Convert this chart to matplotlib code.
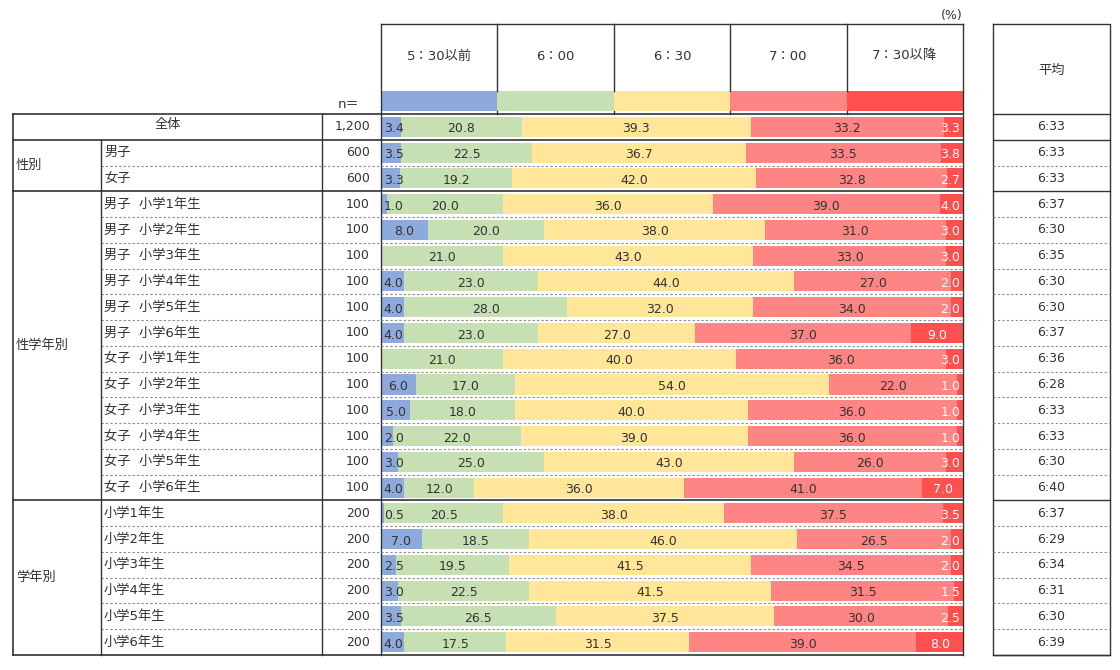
import numpy as np
import matplotlib.pyplot as plt

plt.rcParams['font.family'] = ['DejaVu Sans', 'Noto Sans CJK JP']
plt.rcParams['font.size'] = 9

# data
categories = ['5：30以前', '6：00', '6：30', '7：00', '7：30以降']
colors = ['#8EA9DB', '#C6E0B4', '#FFE699', '#FF8585', '#FF5050']

groups = [('', 0, 1), ('性別', 1, 3), ('性学年別', 3, 15), ('学年別', 15, 21)]
row_labels = ['全体', '男子', '女子',
              '男子  小学1年生', '男子  小学2年生', '男子  小学3年生',
              '男子  小学4年生', '男子  小学5年生', '男子  小学6年生',
              '女子  小学1年生', '女子  小学2年生', '女子  小学3年生',
              '女子  小学4年生', '女子  小学5年生', '女子  小学6年生',
              '小学1年生', '小学2年生', '小学3年生',
              '小学4年生', '小学5年生', '小学6年生']
n_values = [1200, 600, 600] + [100] * 12 + [200] * 6
averages = ['6:33', '6:33', '6:33',
            '6:37', '6:30', '6:35', '6:30', '6:30', '6:37',
            '6:36', '6:28', '6:33', '6:33', '6:30', '6:40',
            '6:37', '6:29', '6:34', '6:31', '6:30', '6:39']

before_530 = [3.4, 3.5, 3.3, 1.0, 8.0, 0.0, 4.0, 4.0, 4.0, 0.0, 6.0, 5.0, 2.0, 3.0, 4.0,
              0.5, 7.0, 2.5, 3.0, 3.5, 4.0]
at_600 = [20.8, 22.5, 19.2, 20.0, 20.0, 21.0, 23.0, 28.0, 23.0, 21.0, 17.0, 18.0, 22.0, 25.0, 12.0,
          20.5, 18.5, 19.5, 22.5, 26.5, 17.5]
at_630 = [39.3, 36.7, 42.0, 36.0, 38.0, 43.0, 44.0, 32.0, 27.0, 40.0, 54.0, 40.0, 39.0, 43.0, 36.0,
          38.0, 46.0, 41.5, 41.5, 37.5, 31.5]
at_700 = [33.2, 33.5, 32.8, 39.0, 31.0, 33.0, 27.0, 34.0, 37.0, 36.0, 22.0, 36.0, 36.0, 26.0, 41.0,
          37.5, 26.5, 34.5, 31.5, 30.0, 39.0]
after_730 = [3.3, 3.8, 2.7, 4.0, 3.0, 3.0, 2.0, 2.0, 9.0, 3.0, 1.0, 1.0, 1.0, 3.0, 7.0,
             3.5, 2.0, 2.0, 1.5, 2.5, 8.0]

series = np.array([before_530, at_600, at_630, at_700, after_730])
nrows = len(row_labels)

# layout in pixels
W, H = 1120, 670
top, bottom = 114, 655
rh = (bottom - top) / nrows
x_left, x_grp, x_lab, x_bar0, x_bar1 = 13, 101, 322, 381, 963
x_av0, x_av1 = 993, 1110
head_top, strip_top, strip_bot = 24, 91, 111
txt = '#333333'
jp = 9.5

fig = plt.figure(figsize=(W / 100, H / 100), dpi=100)


def frac(x0, y0, x1, y1):
    return [x0 / W, 1 - y1 / H, (x1 - x0) / W, (y1 - y0) / H]


# bars
ax = fig.add_axes(frac(x_bar0, top, x_bar1, bottom))
ypos = np.arange(nrows)
left = np.zeros(nrows)
for k, (vals, c) in enumerate(zip(series, colors)):
    ax.barh(ypos, vals, left=left, height=0.78, color=c, linewidth=0)
    for i, v in enumerate(vals):
        if v <= 0:
            continue
        cx = left[i] + v / 2
        cx = min(max(cx, 2.2), 100 - 2.2)
        ax.text(cx, i + 0.08, f'{v:.1f}', ha='center', va='center', fontsize=9,
                color='white' if k == len(series) - 1 else txt)
    left += vals
ax.set_xlim(0, 100)
ax.set_ylim(nrows - 0.5, -0.5)
ax.axis('off')

# legend strip
axl = fig.add_axes(frac(x_bar0, strip_top, x_bar1, strip_bot))
axl.barh(0, [1] * 5, left=np.arange(5), height=1, color=colors, linewidth=0)
axl.set_xlim(0, 5)
axl.set_ylim(-0.5, 0.5)
axl.axis('off')

# table lines and text
cv = fig.add_axes([0, 0, 1, 1], facecolor='none')
cv.set_xlim(0, W)
cv.set_ylim(H, 0)
cv.axis('off')
lc = '#333333'

# header
col_w = (x_bar1 - x_bar0) / len(categories)
cv.plot([x_bar0, x_bar1], [head_top, head_top], color=lc, lw=1)
for j, name in enumerate(categories):
    cx = x_bar0 + (j + 0.5) * col_w
    cv.text(cx, 56, name, ha='center', va='center', color=txt, fontsize=jp)
    if j > 0:
        xj = x_bar0 + j * col_w
        cv.plot([xj, xj], [head_top, strip_top], color=lc, lw=1)
        cv.plot([xj, xj], [strip_bot, top], color=lc, lw=1)
cv.plot([x_bar0, x_bar0], [head_top, bottom], color=lc, lw=1)
cv.plot([x_bar1, x_bar1], [head_top, bottom], color=lc, lw=1)
cv.text(x_bar1, 15, '(%)', ha='right', va='center', color=txt)
cv.text(x_lab + 16, 104, 'n＝', ha='left', va='center', color=txt, fontsize=jp)

# average box
cv.plot([x_av0, x_av1, x_av1, x_av0, x_av0],
        [head_top, head_top, bottom, bottom, head_top], color=lc, lw=1)
cv.text((x_av0 + x_av1) / 2, 70, '平均', ha='center', va='center', color=txt, fontsize=jp)

# row separators
group_starts = [g[1] for g in groups]
for i in range(nrows + 1):
    y = top + i * rh
    if i in group_starts or i == nrows:
        cv.plot([x_left, x_bar1], [y, y], color=lc, lw=1.2)
        cv.plot([x_av0, x_av1], [y, y], color=lc, lw=1)
    else:
        cv.plot([x_grp, x_bar1], [y, y], color='#888888', lw=0.8, ls=(0, (2, 2)))
        cv.plot([x_av0, x_av1], [y, y], color='#888888', lw=0.8, ls=(0, (2, 2)))

cv.plot([x_left, x_left], [top, bottom], color=lc, lw=1.2)
cv.plot([x_grp, x_grp], [top + rh, bottom], color=lc, lw=1)
cv.plot([x_lab, x_lab], [top, bottom], color=lc, lw=1)

# row text
for i in range(nrows):
    yc = top + (i + 0.5) * rh
    if i == 0:
        cv.text((x_left + x_lab) / 2, yc - 2, row_labels[i], ha='center', va='center',
                color=txt, fontsize=jp)
    else:
        cv.text(x_grp + 3, yc, row_labels[i], ha='left', va='center', color=txt, fontsize=jp)
    cv.text(x_bar0 - 11, yc, f'{n_values[i]:,}', ha='right', va='center', color=txt)
    cv.text((x_av0 + x_av1) / 2, yc, averages[i], ha='center', va='center', color=txt)

for name, a, b in groups[1:]:
    yc = top + (a + b) / 2 * rh
    cv.text(x_left + 3, yc, name, ha='left', va='center', color=txt, fontsize=jp)

fig.savefig('out.png', dpi=100)
